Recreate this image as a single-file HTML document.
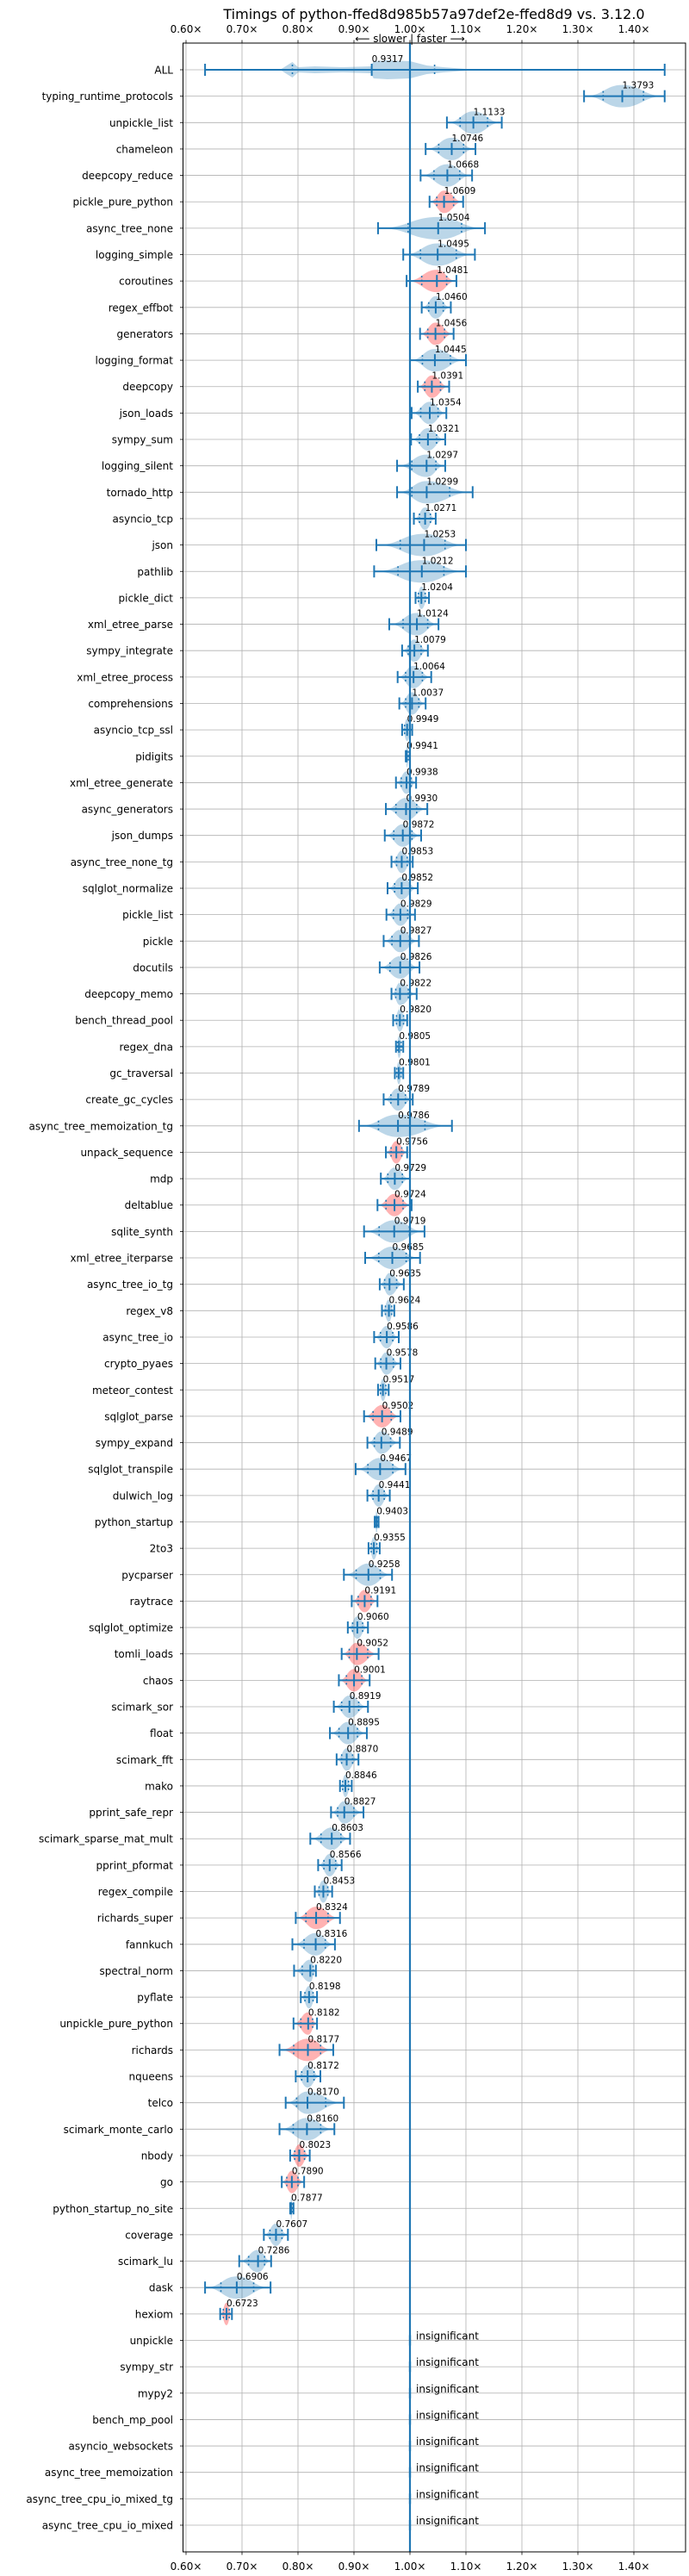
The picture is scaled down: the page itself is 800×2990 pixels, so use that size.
<!DOCTYPE html>
<html>
<head>
<meta charset="utf-8">
<style>
  html,body{margin:0;padding:0;background:#fff;}
  svg{display:block;font-family:"DejaVu Sans","Liberation Sans",sans-serif;}
</style>
</head>
<body>
<svg id="chart" width="800" height="2990" viewBox="0 0 800 2990" xmlns="http://www.w3.org/2000/svg"></svg>
<script>
// ---- data ----
const benchmarks = ["ALL","typing_runtime_protocols","unpickle_list","chameleon","deepcopy_reduce","pickle_pure_python","async_tree_none","logging_simple","coroutines","regex_effbot","generators","logging_format","deepcopy","json_loads","sympy_sum","logging_silent","tornado_http","asyncio_tcp","json","pathlib","pickle_dict","xml_etree_parse","sympy_integrate","xml_etree_process","comprehensions","asyncio_tcp_ssl","pidigits","xml_etree_generate","async_generators","json_dumps","async_tree_none_tg","sqlglot_normalize","pickle_list","pickle","docutils","deepcopy_memo","bench_thread_pool","regex_dna","gc_traversal","create_gc_cycles","async_tree_memoization_tg","unpack_sequence","mdp","deltablue","sqlite_synth","xml_etree_iterparse","async_tree_io_tg","regex_v8","async_tree_io","crypto_pyaes","meteor_contest","sqlglot_parse","sympy_expand","sqlglot_transpile","dulwich_log","python_startup","2to3","pycparser","raytrace","sqlglot_optimize","tomli_loads","chaos","scimark_sor","float","scimark_fft","mako","pprint_safe_repr","scimark_sparse_mat_mult","pprint_pformat","regex_compile","richards_super","fannkuch","spectral_norm","pyflate","unpickle_pure_python","richards","nqueens","telco","scimark_monte_carlo","nbody","go","python_startup_no_site","coverage","scimark_lu","dask","hexiom","unpickle","sympy_str","mypy2","bench_mp_pool","asyncio_websockets","async_tree_memoization","async_tree_cpu_io_mixed_tg","async_tree_cpu_io_mixed"];
const values = [0.9317,1.3793,1.1133,1.0746,1.0668,1.0609,1.0504,1.0495,1.0481,1.0460,1.0456,1.0445,1.0391,1.0354,1.0321,1.0297,1.0299,1.0271,1.0253,1.0212,1.0204,1.0124,1.0079,1.0064,1.0037,0.9949,0.9941,0.9938,0.9930,0.9872,0.9853,0.9852,0.9829,0.9827,0.9826,0.9822,0.9820,0.9805,0.9801,0.9789,0.9786,0.9756,0.9729,0.9724,0.9719,0.9685,0.9635,0.9624,0.9586,0.9578,0.9517,0.9502,0.9489,0.9467,0.9441,0.9403,0.9355,0.9258,0.9191,0.9060,0.9052,0.9001,0.8919,0.8895,0.8870,0.8846,0.8827,0.8603,0.8566,0.8453,0.8324,0.8316,0.8220,0.8198,0.8182,0.8177,0.8172,0.8170,0.8160,0.8023,0.7890,0.7877,0.7607,0.7286,0.6906,0.6723,null,null,null,null,null,null,null,null];
const lows = [0.634,1.311,1.066,1.028,1.019,1.035,0.943,0.988,0.994,1.021,1.018,1.000,1.014,1.003,1.002,0.977,0.977,1.007,0.940,0.936,1.010,0.963,0.986,0.978,0.981,0.986,0.9925,0.975,0.957,0.955,0.967,0.960,0.958,0.953,0.946,0.967,0.970,0.975,0.973,0.953,0.909,0.957,0.948,0.942,0.918,0.920,0.946,0.950,0.936,0.938,0.943,0.918,0.924,0.903,0.924,0.937,0.926,0.882,0.896,0.889,0.878,0.873,0.864,0.857,0.869,0.875,0.859,0.822,0.836,0.830,0.796,0.790,0.793,0.805,0.792,0.767,0.796,0.778,0.767,0.786,0.771,0.786,0.739,0.695,0.634,0.661,null,null,null,null,null,null,null,null];
const highs = [1.455,1.455,1.164,1.117,1.111,1.095,1.134,1.116,1.083,1.073,1.078,1.100,1.070,1.065,1.063,1.063,1.112,1.046,1.100,1.100,1.034,1.051,1.032,1.038,1.028,1.004,1.000,1.011,1.031,1.020,1.005,1.014,1.009,1.016,1.017,1.012,0.995,0.988,0.988,1.005,1.075,0.995,1.000,1.003,1.026,1.018,0.989,0.972,0.980,0.983,0.962,0.983,0.982,0.992,0.964,0.944,0.946,0.968,0.942,0.925,0.944,0.928,0.925,0.923,0.908,0.896,0.917,0.893,0.878,0.861,0.875,0.866,0.832,0.834,0.834,0.863,0.840,0.882,0.865,0.821,0.811,0.792,0.782,0.752,0.751,0.682,null,null,null,null,null,null,null,null];
// 1 = significantly slower run (red violin), 0 = normal (blue violin)
const redFlags = [0,0,0,0,0,1,0,0,1,0,1,0,1,0,0,0,0,0,0,0,0,0,0,0,0,0,0,0,0,0,0,0,0,0,0,0,0,0,0,0,0,1,0,1,0,0,0,0,0,0,0,1,0,0,0,0,0,0,1,0,1,1,0,0,0,0,0,0,0,0,1,0,0,0,1,1,0,0,0,1,1,0,0,0,0,1,0,0,0,0,0,0,0,0];
// ALL row density outline: ratio values and relative half-widths
const allDensityX = [0.768,0.785,0.79,0.80,0.83,0.88,0.93,0.935,0.96,1.0,1.03,1.06,1.1,1.13];
const allDensityW = [0,7,9,3,4,3,4,10,11,10,5,3,1,0];
const xTicks = [0.6,0.7,0.8,0.9,1.0,1.1,1.2,1.3,1.4];
const xTickLabels = ["0.60×","0.70×","0.80×","0.90×","1.00×","1.10×","1.20×","1.30×","1.40×"];

// ---- layout ----
const NS = "http://www.w3.org/2000/svg";
const svg = document.getElementById('chart');
const L = 212.5, R = 796, T = 50, B = 2962;
const row0 = 81, rowStep = (2931 - 81) / 93;
const xs = v => 476 + (v - 1) * 650;
const ys = i => row0 + i * rowStep;
const BLUE = "#1f77b4";

function mk(tag, attrs, parent) {
  const e = document.createElementNS(NS, tag);
  for (const k in attrs) e.setAttribute(k, attrs[k]);
  (parent || svg).appendChild(e);
  return e;
}

// title
let t = mk('text', {x: 504, y: 22, 'text-anchor': 'middle', 'font-size': 16, fill: '#000'});
t.textContent = "Timings of python-ffed8d985b57a97def2e-ffed8d9 vs. 3.12.0";



// slower / faster
t = mk('text', {x: 476, y: 49, 'text-anchor': 'middle', 'font-size': 12, fill: '#000'});
t.textContent = "⟵ slower | faster ⟶";



// grid
const grid = mk('g', {});


xTicks.forEach((v, i) => {
  const x = xs(v);
  let g = mk('line', {x1: x, x2: x, y1: T, y2: B, stroke: '#b0b0b0', 'stroke-width': 0.8}, grid);
  
  
  mk('line', {x1: x, x2: x, y1: T, y2: T - 3.5, stroke: '#000', 'stroke-width': 0.8});
  mk('line', {x1: x, x2: x, y1: B, y2: B + 3.5, stroke: '#000', 'stroke-width': 0.8});
  let lt = mk('text', {x: x, y: 38, 'text-anchor': 'middle', 'font-size': 12, fill: '#000'});
  lt.textContent = xTickLabels[i];
  
  
  let lb = mk('text', {x: x, y: 2983, 'text-anchor': 'middle', 'font-size': 12, fill: '#000'});
  lb.textContent = xTickLabels[i];
  
  
});
benchmarks.forEach((name, i) => {
  const y = ys(i);
  let g = mk('line', {x1: L, x2: R, y1: y, y2: y, stroke: '#b0b0b0', 'stroke-width': 0.8}, grid);
  
  
  mk('line', {x1: L, x2: L - 3.5, y1: y, y2: y, stroke: '#000', 'stroke-width': 0.8});
  let lab = mk('text', {x: 201, y: y + 4.5, 'text-anchor': 'end', 'font-size': 12, fill: '#000'});
  lab.textContent = name;
  
  
});

// violins
function lensPath(lo, v, hi, y, h) {
  const a = xs(lo), m = xs(v), b = xs(hi);
  return `M${a},${y} C${a+(m-a)*0.5},${y} ${m-(m-a)*0.45},${y-h} ${m},${y-h} C${m+(b-m)*0.45},${y-h} ${b-(b-m)*0.5},${y} ${b},${y} C${b-(b-m)*0.5},${y} ${m+(b-m)*0.45},${y+h} ${m},${y+h} C${m-(m-a)*0.45},${y+h} ${a+(m-a)*0.5},${y} ${a},${y} Z`;
}
benchmarks.forEach((name, i) => {
  const y = ys(i);
  const v = values[i];
  const g = mk('g', {});
  
  
  if (v === null) {
    mk('rect', {x: xs(1) - 1.5, y: y - 6, width: 3, height: 12, fill: 'rgba(31,119,180,0.3)'}, g);
    let it = mk('text', {x: 483, y: y - 1, 'font-size': 12, fill: '#000'}, g);
    it.textContent = "insignificant";
    
    
    return;
  }
  const lo = lows[i], hi = highs[i];
  const fill = redFlags[i] ? 'rgba(255,0,0,0.3)' : 'rgba(31,119,180,0.3)';
  let body;
  if (i === 0) {
    let top = allDensityX.map((dv, k) => `${xs(dv)},${y - allDensityW[k]}`);
    let bot = allDensityX.map((dv, k) => `${xs(dv)},${y + allDensityW[k]}`).reverse();
    body = mk('polygon', {points: top.concat(bot).join(' '), fill: fill}, g);
  } else {
    body = mk('path', {d: lensPath(lo, v, hi, y, 13), fill: fill}, g);
  }
  
  
  // whisker
  mk('line', {x1: xs(lo), x2: xs(hi), y1: y, y2: y, stroke: BLUE, 'stroke-width': 2}, g);
  mk('line', {x1: xs(lo), x2: xs(lo), y1: y - 7, y2: y + 7, stroke: BLUE, 'stroke-width': 2}, g);
  mk('line', {x1: xs(hi), x2: xs(hi), y1: y - 7, y2: y + 7, stroke: BLUE, 'stroke-width': 2}, g);
  // mean
  mk('line', {x1: xs(v), x2: xs(v), y1: y - 7, y2: y + 7, stroke: BLUE, 'stroke-width': 2}, g);
  // quartiles
  const q1 = i === 0 ? 0.79 : lo + (v - lo) * 0.5;
  const q3 = i === 0 ? 1.044 : v + (hi - v) * 0.5;
  [q1, q3].forEach(q => mk('line', {x1: xs(q), x2: xs(q), y1: y - 6, y2: y + 6, stroke: BLUE, 'stroke-width': 1.6, 'stroke-dasharray': '2,2.5'}, g));
  // label
  let vl = mk('text', {x: xs(v), y: y - 9, 'font-size': 10.5, fill: '#000'}, g);
  vl.textContent = v.toFixed(4);
  
  
});

// reference line at 1.0
let ref = mk('line', {x1: xs(1), x2: xs(1), y1: T, y2: B, stroke: BLUE, 'stroke-width': 2.2});



// frame
let fr = mk('rect', {x: L, y: T, width: R - L, height: B - T, fill: 'none', stroke: '#000', 'stroke-width': 1});


</script>
</body>
</html>
